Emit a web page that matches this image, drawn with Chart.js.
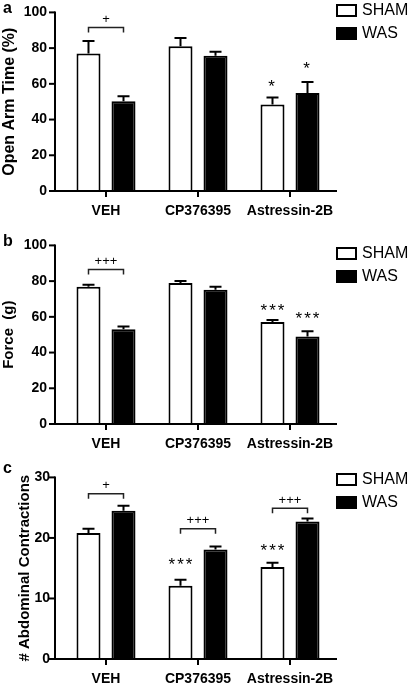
<!DOCTYPE html>
<html><head><meta charset="utf-8">
<script src="https://cdn.jsdelivr.net/npm/chart.js@4/dist/chart.umd.min.js"></script>
<style>
html,body{margin:0;padding:0;background:#fff;width:409px;height:684px;overflow:hidden;position:relative}
.p{position:absolute;left:0;width:409px;height:232px}
canvas{display:block}
</style></head><body>
<div class="p" style="top:-9px"><canvas id="ca" width="409" height="232"></canvas></div>
<div class="p" style="top:224px"><canvas id="cb" width="409" height="232"></canvas></div>
<div class="p" style="top:459px"><canvas id="cc" width="409" height="232"></canvas></div>
<script>
// ---- data ----
const categories = ['VEH', 'CP376395', 'Astressin-2B'];
const seriesNames = ['SHAM', 'WAS'];

// panel a: Open Arm Time (%)
const shamA = [77, 81.1, 48.4];
const shamAErr = [7, 4.6, 3.9];
const wasA = [50.2, 75.7, 54.9];
const wasAErr = [2.8, 2.3, 6.1];

// panel b: Force (g)
const shamB = [76.9, 78.9, 57.1];
const shamBErr = [1.1, 1.1, 1.1];
const wasB = [53.1, 75.1, 49];
const wasBErr = [1.5, 1.8, 3];

// panel c: # Abdominal Contractions
const shamC = [20.8, 12.1, 15.2];
const shamCErr = [0.7, 1.0, 0.7];
const wasC = [24.5, 18.1, 22.7];
const wasCErr = [0.8, 0.5, 0.5];

// significance marks (y in data units)
const bracketsA = [{cat: 0, y: 91.5, label: '+'}];
const starsA = [{cat: 2, ds: 0, y: 60.3, label: '*'}, {cat: 2, ds: 1, y: 70.1, label: '*'}];
const bracketsB = [{cat: 0, y: 86.5, label: '+++'}];
const starsB = [{cat: 2, ds: 0, y: 65.2, label: '***'}, {cat: 2, ds: 1, y: 60.9, label: '***'}];
const bracketsC = [{cat: 0, y: 27.3, label: '+'}, {cat: 1, y: 21.5, label: '+++'}, {cat: 2, y: 24.9, label: '+++'}];
const starsC = [{cat: 1, ds: 0, y: 16.1, label: '***'}, {cat: 2, ds: 0, y: 18.5, label: '***'}];

const FONT = "'Liberation Sans', Arial, Helvetica, sans-serif";
Chart.defaults.font.family = FONT;
Chart.defaults.color = '#000';

const extras = {
  id: 'extras',
  afterDatasetsDraw(chart, args, o) {
    const ctx = chart.ctx;
    const y = chart.scales.y;
    const ca = chart.chartArea;
    ctx.save();
    ctx.strokeStyle = '#000';
    ctx.fillStyle = '#000';
    // error bars (upper only)
    chart.data.datasets.forEach((ds, i) => {
      const meta = chart.getDatasetMeta(i);
      meta.data.forEach((el, j) => {
        const top = y.getPixelForValue(ds.data[j] + ds.err[j]);
        ctx.lineWidth = 2;
        ctx.beginPath();
        ctx.moveTo(el.x, el.y);
        ctx.lineTo(el.x, top);
        ctx.moveTo(el.x - 6, top);
        ctx.lineTo(el.x + 6, top);
        ctx.stroke();
      });
    });
    // axes
    const ax = ca.left - 5;
    ctx.lineWidth = 2;
    ctx.lineCap = 'square';
    ctx.beginPath();
    ctx.moveTo(ax, y.getPixelForValue(y.max));
    ctx.lineTo(ax, ca.bottom);
    ctx.lineTo(ca.right, ca.bottom);
    ctx.stroke();
    ctx.lineCap = 'butt';
    y.ticks.forEach(t => {
      const py = y.getPixelForValue(t.value);
      ctx.beginPath();
      ctx.moveTo(ax - 6, py);
      ctx.lineTo(ax, py);
      ctx.stroke();
    });
    // brackets
    ctx.lineWidth = 1.5;
    ctx.strokeStyle = '#222';
    ctx.font = '13px ' + FONT;
    ctx.textAlign = 'center';
    ctx.textBaseline = 'middle';
    (o.brackets || []).forEach(b => {
      const x0 = chart.getDatasetMeta(0).data[b.cat].x;
      const x1 = chart.getDatasetMeta(1).data[b.cat].x;
      const by = y.getPixelForValue(b.y);
      ctx.beginPath();
      ctx.moveTo(x0, by + 5);
      ctx.lineTo(x0, by);
      ctx.lineTo(x1, by);
      ctx.lineTo(x1, by + 5);
      ctx.stroke();
      ctx.fillText(b.label, (x0 + x1) / 2, by - 8);
    });
    const sf = 17;
    ctx.font = sf + 'px ' + FONT;
    if ('letterSpacing' in ctx) ctx.letterSpacing = '2px';
    (o.stars || []).forEach(s => {
      const sx = chart.getDatasetMeta(s.ds).data[s.cat].x;
      ctx.fillText(s.label, sx + (s.label.length > 1 ? 1 : 0), y.getPixelForValue(s.y) + 0.23 * sf);
    });
    if ('letterSpacing' in ctx) ctx.letterSpacing = '0px';
    // legend
    const lg = o.legend;
    ctx.textAlign = 'left';
    ctx.font = '16px ' + FONT;
    chart.data.datasets.forEach((ds, i) => {
      const by = lg.y + i * 23;
      ctx.fillStyle = ds.backgroundColor;
      ctx.fillRect(lg.x, by, 21, 13);
      ctx.lineWidth = 2;
      ctx.strokeStyle = '#000';
      ctx.strokeRect(lg.x + 1, by + 1, 19, 11);
      ctx.fillStyle = '#000';
      ctx.fillText(ds.label, lg.x + 26, by + 7);
    });
    // panel letter
    ctx.font = 'bold 16px ' + FONT;
    ctx.fillText(o.letter, 3, o.letterY);
    ctx.restore();
  }
};

function makeChart(id, sham, shamErr, was, wasErr, title, titleSize, titlePad, max, step, tickPad, brackets, stars, legendY, letter, letterY) {
  return new Chart(document.getElementById(id), {
    type: 'bar',
    data: {
      labels: categories,
      datasets: [
        {label: seriesNames[0], data: sham, err: shamErr, backgroundColor: '#ffffff', borderColor: '#000', borderWidth: 2,
         barPercentage: 0.686, categoryPercentage: 0.761},
        {label: seriesNames[1], data: was, err: wasErr, backgroundColor: '#000000', borderColor: '#000', borderWidth: 2,
         barPercentage: 0.686, categoryPercentage: 0.761}
      ]
    },
    options: {
      responsive: false,
      devicePixelRatio: 1,
      animation: false,
      layout: {padding: {top: 16, left: 0, right: 73, bottom: 0}},
      plugins: {
        legend: {display: false},
        tooltip: {enabled: false},
        extras: {brackets, stars, legend: {x: 336, y: legendY}, letter, letterY}
      },
      scales: {
        x: {
          type: 'category',
          offset: true,
          grid: {display: true, drawOnChartArea: false, offset: false, color: '#000', lineWidth: 2, tickLength: 6},
          border: {display: false},
          ticks: {font: {size: 14, weight: 'bold'}, padding: 6, maxRotation: 0},
          afterFit(s) { s.height = 32; }
        },
        y: {
          min: 0, max: max,
          grid: {display: false, drawTicks: false},
          border: {display: false},
          ticks: {stepSize: step, font: {size: 14, weight: 'bold'}, padding: tickPad},
          title: {display: true, text: title, font: {size: titleSize, weight: 'bold'}, padding: {top: titlePad, bottom: 0}},
          afterFit(s) { s.width = 60; }
        }
      }
    },
    plugins: [extras]
  });
}

makeChart('ca', shamA, shamAErr, wasA, wasAErr, 'Open Arm Time (%)', 16, 0, 100, 20, 13, bracketsA, starsA, 13, 'a', 18);
makeChart('cb', shamB, shamBErr, wasB, wasBErr, 'Force  (g)', 15, 0, 100, 20, 13, bracketsB, starsB, 23, 'b', 18);
makeChart('cc', shamC, shamCErr, wasC, wasCErr, '# Abdominal Contractions', 15, 16, 30, 10, 10, bracketsC, starsC, 14, 'c', 10);
</script>
</body></html>
